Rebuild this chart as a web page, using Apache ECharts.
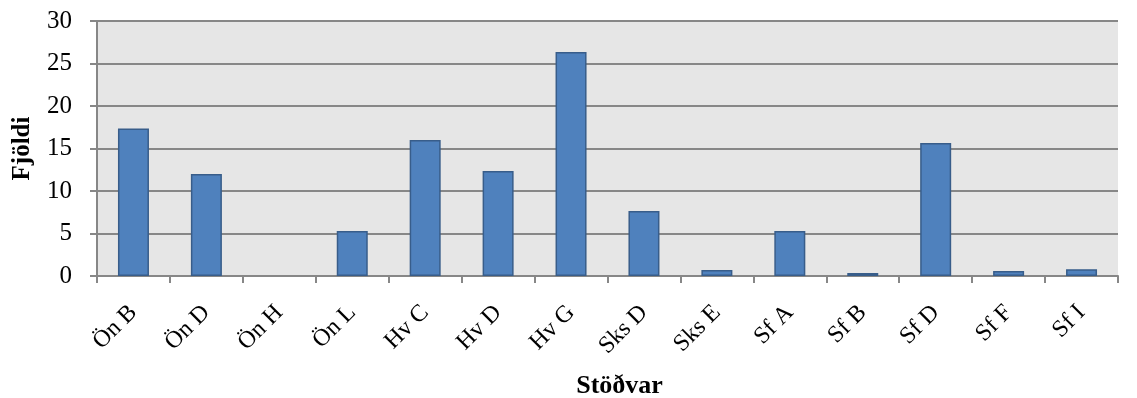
<!DOCTYPE html>
<html><head><meta charset="utf-8">
<script src="https://cdn.jsdelivr.net/npm/echarts@6/dist/echarts.min.js"></script>
<style>html,body{margin:0;padding:0;background:#fff}#c{width:1137px;height:398px}</style>
</head><body><div id="c"></div>
<script>
const categories = ['Ön B','Ön D','Ön H','Ön L','Hv C','Hv D','Hv G','Sks D','Sks E','Sf A','Sf B','Sf D','Sf F','Sf I'];
const values = [17.35, 12.0, 0, 5.3, 16.0, 12.35, 26.35, 7.65, 0.7, 5.3, 0.35, 15.65, 0.6, 0.8];
const yTicks = [0, 5, 10, 15, 20, 25, 30];
const font = '"Liberation Serif", "DejaVu Serif", serif';
const chart = echarts.init(document.getElementById('c'), null, {renderer:'canvas'});
chart.setOption({
  animation:false,
  backgroundColor:'#fff',
  grid:{left:97, right:19, top:21, bottom:122, containLabel:false, outerBoundsMode:'none', show:true, backgroundColor:'#e6e6e6', borderWidth:0},
  xAxis:{type:'category', data:categories, name:'Stöðvar', nameLocation:'middle', nameGap:97,
    nameTextStyle:{fontFamily:font, fontSize:26, fontWeight:'bold', color:'#000', padding:[0,0,0,24]},
    axisLine:{lineStyle:{color:'#878787', width:2}},
    axisTick:{show:true, alignWithLabel:false, length:7, lineStyle:{color:'#878787', width:2}},
    axisLabel:{rotate:45, fontFamily:font, fontSize:24, color:'#000', margin:33, interval:0}},
  yAxis:{type:'value', min:0, max:30, interval:5, name:'Fjöldi', nameLocation:'middle', nameGap:62,
    nameTextStyle:{fontFamily:font, fontSize:25, fontWeight:'bold', color:'#000'},
    axisLine:{show:true, lineStyle:{color:'#878787', width:2}},
    axisTick:{show:true, length:7, lineStyle:{color:'#878787', width:2}},
    axisLabel:{fontFamily:font, fontSize:25, color:'#000', margin:25,
      formatter: v => yTicks.includes(v) ? String(v) : ''},
    splitLine:{lineStyle:{color:'#878787', width:2}}},
  series:[{type:'bar', data:values.map(v => v === 0 ? null : v), barWidth:31,
    itemStyle:{color:'#4f81bd', borderColor:'#385d8a', borderWidth:1.5}}]
});
</script></body></html>
